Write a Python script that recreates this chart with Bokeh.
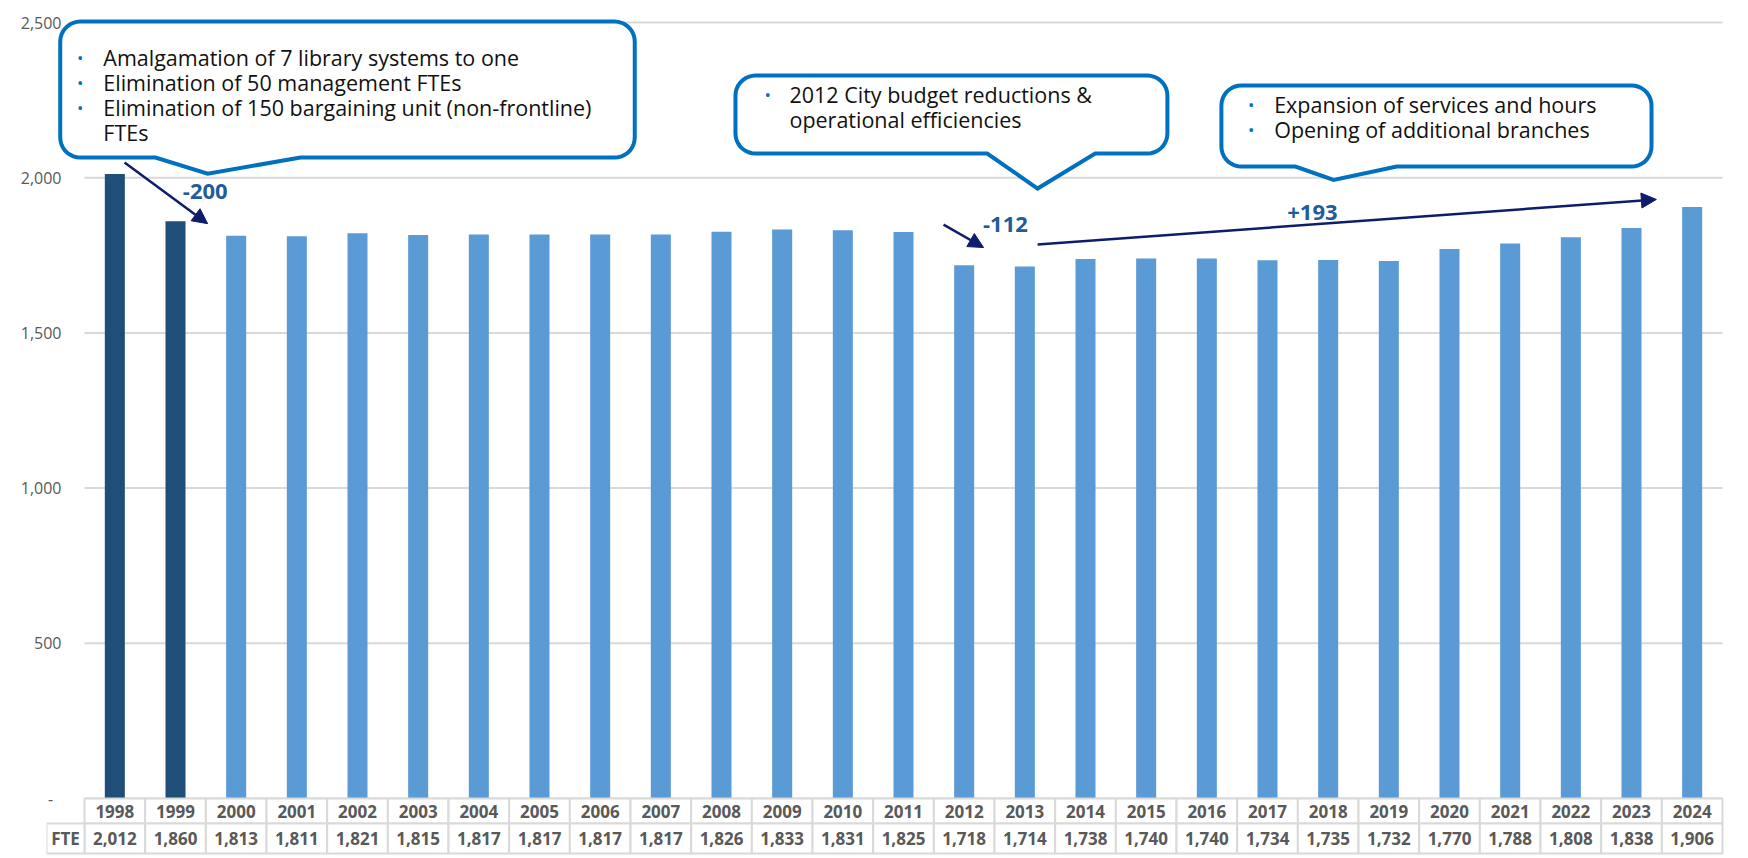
import math
from bokeh.plotting import figure
from bokeh.models import (Range1d, Label, Arrow, NormalHead, PolyAnnotation,
                          FixedTicker, NumeralTickFormatter, ColumnDataSource)
from bokeh.embed import file_html
from bokeh.resources import INLINE
from bokeh.core.properties import value

# ---------------- data ----------------
years = list(range(1998, 2025))
fte = [2012, 1860, 1813, 1811, 1821, 1815, 1817, 1817, 1817, 1817, 1826, 1833, 1831, 1825,
       1718, 1714, 1738, 1740, 1740, 1734, 1735, 1732, 1770, 1788, 1808, 1838, 1906]
y_ticks = [0, 500, 1000, 1500, 2000, 2500]
row_label = "FTE"

callout_lines = [
    ["Amalgamation of 7 library systems to one",
     "Elimination of 50 management FTEs",
     "Elimination of 150 bargaining unit (non-frontline)",
     "FTEs"],
    ["2012 City budget reductions &",
     "operational efficiencies"],
    ["Expansion of services and hours",
     "Opening of additional branches"],
]
callout_bullets = [[True, True, True, False], [True, False], [True, True]]

# callout geometry in data units (year, FTE)
callout_left = [1997.10, 2008.23, 2016.24]
callout_right = [2006.57, 2015.35, 2023.33]
callout_top = [2503, 2329, 2297]
callout_bottom = [2065, 2078, 2036]
pointer_base_left = [1998.67, 2012.38, 2017.46]
pointer_base_right = [2001.06, 2014.16, 2019.13]
pointer_tip_x = [1999.53, 2013.21, 2018.09]
pointer_tip_y = [2013, 1965, 1993]
callout_bullet_x = [1997.43, 2008.76, 2016.73]
callout_text_x = [1997.81, 2009.12, 2017.11]
callout_first_y = [2387, 2268, 2236]
callout_line_step = 80

change_labels = ["-200", "-112", "+193"]
change_label_x = [1999.49, 2012.68, 2017.74]
change_label_y = [1957, 1849, 1888]
arrow_x0 = [1998.16, 2011.66, 2013.21]
arrow_y0 = [2049, 1849, 1785]
arrow_x1 = [1999.53, 2012.32, 2023.41]
arrow_y1 = [1852, 1775, 1930]

# ---------------- style ----------------
FONT = "Open Sans"
DARK = "#1F4E79"
LIGHT = "#5B9BD5"
CALLOUT = "#0070C0"
NAVY = "#0E1C6C"
CHANGE = "#1F5C99"
GRAY_TXT = "#595959"
GRID = "#D9D9D9"

W = 1740
BORDER_L = 46          # page px where the frame starts (left edge of the FTE column)
FTE_COL_PX = 38        # width of the row-label column
BAR_AREA_PX = 1638     # width of the 27 year columns
PAD_R_PX = 3
TOP_PX = 16            # frame top
PAD_TOP_PX = 6         # from frame top to the 2,500 line
PLOT_H_PX = 776        # 0 .. 2,500
HDR_ROW_PX = 25
VAL_ROW_PX = 30
PAD_BOT_PX = 2

x0, x1 = years[0] - 0.5, years[-1] + 0.5
PX_X = BAR_AREA_PX / (x1 - x0)
PX_Y = PLOT_H_PX / (y_ticks[-1] - y_ticks[0])

x_lo = x0 - FTE_COL_PX / PX_X
x_hi = x1 + PAD_R_PX / PX_X
y_hi = y_ticks[-1] + PAD_TOP_PX / PX_Y
y_lo = -(HDR_ROW_PX + VAL_ROW_PX + PAD_BOT_PX) / PX_Y
frame_w = FTE_COL_PX + BAR_AREA_PX + PAD_R_PX
H = TOP_PX + PAD_TOP_PX + PLOT_H_PX + HDR_ROW_PX + VAL_ROW_PX + PAD_BOT_PX

p = figure(width=W, height=H, x_range=Range1d(x_lo, x_hi), y_range=Range1d(y_lo, y_hi),
           output_backend="svg", toolbar_location=None, x_axis_location=None,
           min_border_left=BORDER_L, min_border_right=W - BORDER_L - frame_w,
           min_border_top=TOP_PX, min_border_bottom=0,
           background_fill_color="white", border_fill_color="white")
p.outline_line_color = None
p.grid.grid_line_color = None

p.yaxis.ticker = FixedTicker(ticks=y_ticks)
p.yaxis.formatter = NumeralTickFormatter(format="0,0")
p.yaxis.major_label_overrides = {0: "-\u00a0\u00a0"}
p.yaxis.axis_line_color = None
p.yaxis.major_tick_line_color = None
p.yaxis.minor_tick_line_color = None
p.yaxis.major_tick_out = 0
p.yaxis.major_tick_in = 0
p.yaxis.major_label_standoff = -15
p.yaxis.major_label_text_color = GRAY_TXT
p.yaxis.major_label_text_font = FONT
p.yaxis.major_label_text_font_size = "16px"

# horizontal gridlines over the year columns only
p.segment(x0=[x0] * len(y_ticks), x1=[x1] * len(y_ticks), y0=y_ticks, y1=y_ticks,
          line_color=GRID, line_width=2)

colors = [DARK if y < 2000 else LIGHT for y in years]
src = ColumnDataSource(dict(x=years, top=fte, color=colors))
p.vbar(x="x", top="top", width=0.33, fill_color="color", line_color=None, source=src)

# ---------------- data table under the bars ----------------
n = len(years)
hdr_c = -HDR_ROW_PX / 2 / PX_Y
hdr_h = HDR_ROW_PX / PX_Y
val_c = -(HDR_ROW_PX + VAL_ROW_PX / 2) / PX_Y
val_h = VAL_ROW_PX / PX_Y
lab_x = x0 - (FTE_COL_PX / PX_X) / 2
p.rect(x=years + years + [lab_x], y=[hdr_c] * n + [val_c] * n + [val_c],
       width=[1] * (2 * n) + [FTE_COL_PX / PX_X], height=[hdr_h] * n + [val_h] * (n + 1),
       fill_color="white", line_color=GRID, line_width=2)
p.text(x=years, y=[hdr_c] * n, text=[str(y) for y in years], text_align="center",
       text_baseline="middle", text_font=value(FONT), text_font_style="bold",
       text_font_size="17px", text_color=GRAY_TXT)
p.text(x=years + [lab_x], y=[val_c] * (n + 1),
       text=[f"{v:,}" for v in fte] + [row_label], text_align="center",
       text_baseline="middle", text_font=value(FONT), text_font_style="bold",
       text_font_size="17px", text_color=GRAY_TXT)

# ---------------- callouts ----------------
R = 20


def callout_poly(l, r, t, b, bl, tx, ty, br):
    rx, ry = R / PX_X, R / PX_Y
    xs, ys = [], []

    def arc(cx, cy, a0, a1):
        for k in range(10):
            a = math.radians(a0 + (a1 - a0) * k / 9)
            xs.append(cx + rx * math.cos(a))
            ys.append(cy + ry * math.sin(a))

    arc(l + rx, b + ry, 180, 270)
    xs.extend([bl, tx, br]); ys.extend([b, ty, b])
    arc(r - rx, b + ry, 270, 360)
    arc(r - rx, t - ry, 0, 90)
    arc(l + rx, t - ry, 90, 180)
    return xs, ys


for i in range(len(callout_left)):
    xs, ys = callout_poly(callout_left[i], callout_right[i], callout_top[i], callout_bottom[i],
                          pointer_base_left[i], pointer_tip_x[i], pointer_tip_y[i], pointer_base_right[i])
    p.add_layout(PolyAnnotation(xs=xs, ys=ys, line_color=CALLOUT, line_alpha=1.0, line_width=4,
                                line_join="miter", fill_color="white", fill_alpha=1.0))
    for j, txt in enumerate(callout_lines[i]):
        yy = callout_first_y[i] - j * callout_line_step
        if callout_bullets[i][j]:
            p.add_layout(Label(x=callout_bullet_x[i], y=yy, text="\u2022", text_align="center",
                               text_baseline="middle", text_color=CALLOUT, text_font=FONT,
                               text_font_size="17px"))
        p.add_layout(Label(x=callout_text_x[i], y=yy, text=txt, text_align="left",
                           text_baseline="middle", text_color="#111111", text_font=FONT,
                           text_font_size="21.5px"))

for i, lab in enumerate(change_labels):
    p.add_layout(Label(x=change_label_x[i], y=change_label_y[i], text=lab, text_align="center",
                       text_baseline="middle", text_color=CHANGE, text_font=FONT,
                       text_font_style="bold", text_font_size="22px"))

asrc = ColumnDataSource(dict(x0=arrow_x0, y0=arrow_y0, x1=arrow_x1, y1=arrow_y1))
p.add_layout(Arrow(end=NormalHead(size=15, fill_color=NAVY, line_color=NAVY),
                   x_start="x0", y_start="y0", x_end="x1", y_end="y1",
                   line_color=NAVY, line_width=2.5, source=asrc))

open("out.html", "w").write(file_html(p, INLINE))
